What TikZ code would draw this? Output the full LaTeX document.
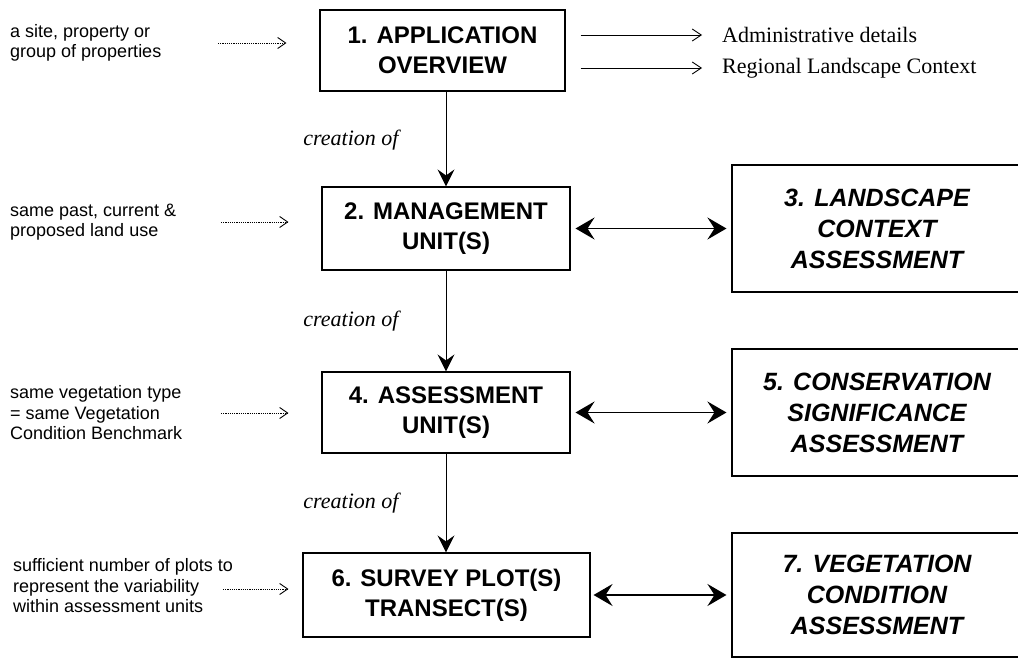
\documentclass[tikz,border=0pt]{standalone}
\usepackage{fontspec}
\setmainfont{Liberation Serif}
\setsansfont{Liberation Sans}
\usetikzlibrary{arrows.meta,calc}

\begin{document}
\begin{tikzpicture}[x=1pt,y=-1pt,
  stagebox/.style={draw, line width=1.1pt, rectangle, inner sep=0pt, align=center,
    font=\sffamily\bfseries\fontsize{24}{30}\selectfont},
  assessbox/.style={draw, line width=1.1pt, rectangle, inner sep=0pt, align=center,
    font=\sffamily\bfseries\itshape\fontsize{25}{31}\selectfont},
  leftnote/.style={anchor=west, inner sep=0pt, align=left,
    font=\sffamily\fontsize{18}{20.5}\selectfont},
  rightnote/.style={anchor=west, inner sep=0pt,
    font=\rmfamily\fontsize{22}{26}\selectfont},
  steplabel/.style={inner sep=0pt, font=\rmfamily\itshape\fontsize{22}{26}\selectfont},
  flowarrow/.style={line width=1pt, -{Stealth[length=17pt,width=17pt,inset=6pt]}},
  linkarrow/.style={line width=1.8pt, {Stealth[length=19pt,width=22pt,inset=7pt]}-{Stealth[length=19pt,width=22pt,inset=7pt]}},
  thinarrow/.style={line width=0.9pt, -{Straight Barb[length=9pt,width=12pt,line width=0.9pt]}},
  dotarrow/.style={line width=0.9pt, dash pattern=on 1.2pt off 1pt, -{Straight Barb[length=8pt,width=11pt,line width=0.9pt]}}
]
\useasboundingbox (0,0) rectangle (1018,658);

% main chain of stages
\node[stagebox, minimum width=245pt, minimum height=81pt] (b1) at (442.5,50.5) {1. APPLICATION\\OVERVIEW};
\node[stagebox, minimum width=248pt, minimum height=83pt] (b2) at (446,228.5) {2. MANAGEMENT\\UNIT(S)};
\node[stagebox, minimum width=248pt, minimum height=81pt] (b4) at (446,412.5) {4. ASSESSMENT\\UNIT(S)};
\node[stagebox, minimum width=287pt, minimum height=84pt] (b6) at (446.5,595) {6. SURVEY PLOT(S)\\TRANSECT(S)};

% assessments on the right
\node[assessbox, minimum width=290pt, minimum height=127pt] (b3) at (877,228.5) {3. LANDSCAPE\\CONTEXT\\ASSESSMENT};
\node[assessbox, minimum width=290pt, minimum height=127pt] (b5) at (877,412.5) {5. CONSERVATION\\SIGNIFICANCE\\ASSESSMENT};
\node[assessbox, minimum width=290pt, minimum height=124pt] (b7) at (877,595) {7. VEGETATION\\CONDITION\\ASSESSMENT};

% outputs of the application overview
\node[rightnote] (adm) at (722,35) {Administrative details};
\node[rightnote] (reg) at (722,68) {Regional Landscape Context};
\draw[thinarrow, shorten <=15pt, shorten >=20pt] (b1.east |- adm.west) -- (adm.west);
\draw[thinarrow, shorten <=15pt, shorten >=20pt] (b1.east |- reg.west) -- (reg.west);

% notes on the left
\node[leftnote] (n1) at (10,43) {a site, property or\\group of properties};
\node[leftnote] (n2) at (10,222) {same past, current \&\\proposed land use};
\node[leftnote] (n4) at (10,413) {same vegetation type\\= same Vegetation\\Condition Benchmark};
\node[leftnote] (n6) at (13,586) {sufficient number of plots to\\represent the variability\\within assessment units};

\coordinate (d1) at (218,43);
\coordinate (d2) at (221,222);
\coordinate (d4) at (221,413);
\coordinate (d6) at (223,589);
\draw[dotarrow, shorten >=33pt] (d1) -- (d1 -| b1.west);
\draw[dotarrow, shorten >=33pt] (d2) -- (d2 -| b2.west);
\draw[dotarrow, shorten >=33pt] (d4) -- (d4 -| b4.west);
\draw[dotarrow, shorten >=14pt] (d6) -- (d6 -| b6.west);

% creation arrows
\draw[flowarrow] (b2.north |- b1.south) -- (b2.north);
\draw[flowarrow] (b2.south) -- (b4.north);
\draw[flowarrow] (b4.south) -- (b4.south |- b6.north);
\node[steplabel] (c1) at (351,140) {creation of};
\node[steplabel] (c2) at (351,321) {creation of};
\node[steplabel] (c3) at (351,503) {creation of};

% links to the assessments
\draw[linkarrow, shorten <=5pt, shorten >=5pt] (b2.east) -- (b3.west);
\draw[linkarrow, shorten <=5pt, shorten >=5pt] (b4.east) -- (b5.west);
\draw[linkarrow, shorten <=3pt, shorten >=5pt] (b6.east) -- (b7.west);
\end{tikzpicture}
\end{document}
